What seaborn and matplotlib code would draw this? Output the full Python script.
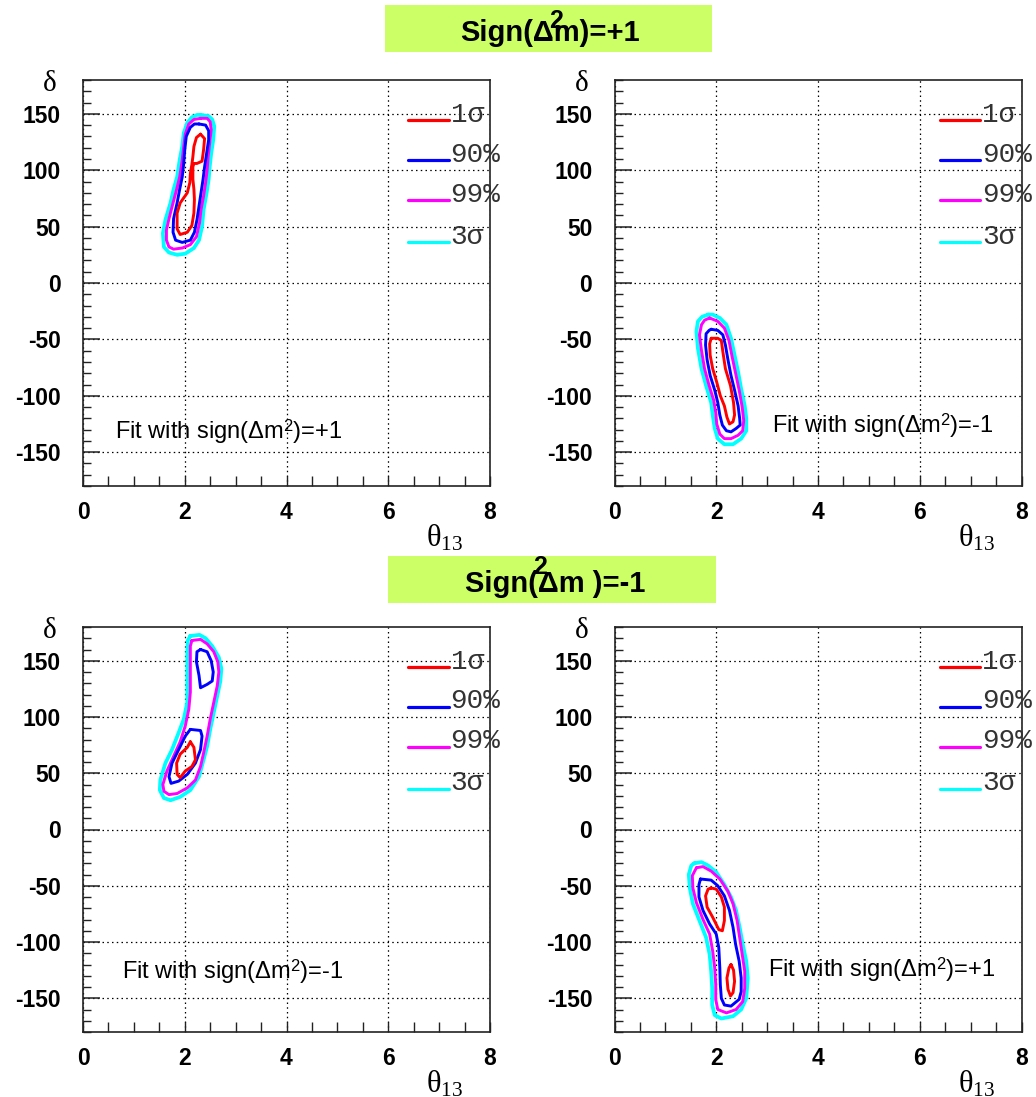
import numpy as np
import pandas as pd
import seaborn as sns
import matplotlib.pyplot as plt
from matplotlib.patches import Rectangle

# contour outlines: (theta13, delta) pairs
# top-left: true sign +1, fit with +1
tl_1sig = [(2.31,132),(2.39,128),(2.37,118),(2.34,108),(2.24,106),(2.18,106),(2.16,103),(2.16,92),
           (2.18,83),(2.19,74),(2.18,62),(2.14,51),(2.05,45),(1.91,43),(1.85,48),(1.85,62),(1.91,71),
           (2.05,80),(2.10,89),(2.11,97),(2.14,105),(2.16,112),(2.18,121),(2.23,129)]
tl_90 = [(2.28,141),(2.41,140),(2.47,135),(2.47,127),(2.43,115),(2.39,103),(2.36,92),(2.32,80),
         (2.28,68),(2.24,56),(2.19,45),(2.11,38),(1.95,36),(1.82,38),(1.77,45),(1.78,57),(1.85,71),
         (1.90,83),(1.95,94),(1.98,106),(2.00,118),(2.03,130),(2.11,138),(2.19,141)]
tl_99 = [(2.31,146),(2.44,146),(2.50,143),(2.52,136),(2.49,124),(2.46,112),(2.44,100),(2.41,89),
         (2.37,77),(2.32,65),(2.29,53),(2.23,41),(2.11,34),(1.95,31),(1.78,30),(1.69,32),(1.64,38),
         (1.64,47),(1.69,57),(1.77,71),(1.84,83),(1.90,94),(1.95,109),(1.98,121),(2.01,132),
         (2.08,141),(2.18,145)]
tl_3sig = [(2.31,149),(2.47,148),(2.54,145),(2.58,139),(2.56,127),(2.52,115),(2.49,103),(2.47,92),
           (2.43,80),(2.37,65),(2.34,50),(2.28,38),(2.18,31),(2.01,26),(1.85,25),(1.69,27),(1.59,32),
           (1.57,44),(1.62,56),(1.72,71),(1.78,83),(1.85,94),(1.90,109),(1.95,121),(1.98,133),
           (2.05,142),(2.14,147),(2.24,149)]

# top-right: true sign +1, fit with -1
tr_1sig = [(1.90,-49),(2.03,-49),(2.10,-51),(2.13,-61),(2.18,-76),(2.28,-91),(2.34,-106),(2.36,-117),
           (2.33,-123),(2.26,-125),(2.21,-119),(2.16,-109),(2.08,-100),(2.01,-88),(1.93,-76),
           (1.88,-64),(1.87,-54)]
tr_90 = [(1.90,-41),(2.03,-42),(2.13,-46),(2.18,-55),(2.23,-68),(2.29,-82),(2.36,-95),(2.43,-109),
         (2.46,-120),(2.47,-126),(2.39,-129),(2.29,-132),(2.20,-131),(2.12,-126),(2.07,-117),
         (2.03,-106),(1.97,-95),(1.88,-82),(1.82,-68),(1.79,-55),(1.80,-45),(1.86,-42)]
tr_99 = [(1.87,-31),(2.03,-34),(2.16,-40),(2.25,-51),(2.31,-65),(2.38,-80),(2.45,-95),(2.51,-110),
         (2.54,-122),(2.52,-131),(2.43,-135),(2.29,-138),(2.16,-138),(2.07,-134),(2.01,-125),
         (1.99,-115),(1.95,-104),(1.86,-91),(1.77,-76),(1.71,-60),(1.67,-46),(1.71,-37),(1.77,-33)]
tr_3sig = [(1.84,-28),(1.93,-28),(2.07,-31),(2.20,-37),(2.29,-49),(2.36,-64),(2.43,-79),(2.49,-94),
           (2.56,-109),(2.59,-120),(2.59,-131),(2.49,-138),(2.33,-143),(2.16,-143),(2.03,-138),
           (1.97,-129),(1.93,-117),(1.90,-106),(1.80,-91),(1.71,-76),(1.64,-58),(1.61,-43),
           (1.64,-34),(1.72,-30)]

# bottom-left: true sign -1, fit with -1
bl_1sig = [(2.11,78),(2.18,73),(2.21,62),(2.14,56),(2.01,52),(1.91,46),(1.85,49),(1.84,59),
           (1.91,67),(2.05,73)]
bl_90_up = [(2.31,160),(2.44,158),(2.52,150),(2.56,140),(2.54,132),(2.44,129),(2.31,126),(2.28,137),
            (2.23,149),(2.24,158)]
bl_90_lo = [(2.11,89),(2.31,88),(2.34,83),(2.31,71),(2.21,59),(2.05,49),(1.88,43),(1.73,41),
            (1.69,47),(1.75,59),(1.88,71),(2.01,83)]
bl_99 = [(2.14,168),(2.31,169),(2.44,165),(2.57,158),(2.65,149),(2.67,140),(2.64,128),(2.57,113),
         (2.50,98),(2.44,83),(2.37,68),(2.31,56),(2.21,44),(2.05,37),(1.85,32),(1.69,31),(1.59,34),
         (1.57,40),(1.65,52),(1.78,65),(1.91,78),(2.01,92),(2.08,107),(2.11,122),(2.11,137),
         (2.11,152),(2.11,163)]
bl_3sig = [(2.11,172),(2.29,173),(2.41,170),(2.54,163),(2.67,153),(2.72,143),(2.70,132),(2.64,119),
           (2.57,104),(2.50,89),(2.44,74),(2.37,62),(2.28,47),(2.11,35),(1.91,29),(1.72,26),
           (1.59,28),(1.51,35),(1.52,44),(1.62,59),(1.75,71),(1.88,86),(1.98,98),(2.05,113),
           (2.05,128),(2.05,143),(2.05,158),(2.06,168)]

# bottom-right: true sign -1, fit with +1
br_1sig_up = [(1.90,-52),(2.00,-53),(2.10,-60),(2.16,-69),(2.16,-81),(2.12,-90),(2.05,-89),
              (1.93,-78),(1.82,-69),(1.79,-59),(1.84,-53)]
br_1sig_lo = [(2.29,-120),(2.34,-125),(2.36,-135),(2.33,-145),(2.28,-148),(2.23,-142),(2.21,-132),
              (2.25,-123)]
br_90 = [(1.69,-44),(1.90,-45),(2.03,-50),(2.16,-59),(2.26,-72),(2.33,-87),(2.38,-102),(2.45,-117),
         (2.49,-132),(2.49,-144),(2.45,-151),(2.29,-157),(2.16,-156),(2.10,-150),(2.08,-138),
         (2.07,-123),(2.05,-105),(2.00,-93),(1.87,-84),(1.74,-72),(1.66,-60),(1.66,-49)]
br_99 = [(1.61,-34),(1.74,-33),(1.90,-37),(2.07,-44),(2.23,-55),(2.33,-66),(2.41,-81),(2.46,-96),
         (2.51,-111),(2.56,-126),(2.56,-141),(2.52,-153),(2.39,-160),(2.20,-163),(2.03,-160),
         (1.99,-151),(1.99,-138),(1.97,-123),(1.93,-108),(1.87,-93),(1.74,-80),(1.61,-65),
         (1.54,-52),(1.53,-41)]
br_3sig = [(1.57,-30),(1.71,-29),(1.84,-32),(2.00,-38),(2.16,-49),(2.29,-60),(2.39,-72),(2.46,-87),
           (2.52,-102),(2.59,-117),(2.62,-132),(2.59,-150),(2.49,-160),(2.33,-166),(2.10,-168),
           (1.97,-165),(1.92,-156),(1.92,-141),(1.90,-126),(1.87,-111),(1.80,-96),(1.67,-81),
           (1.54,-66),(1.48,-52),(1.46,-40),(1.51,-32)]

levels = ['1σ', '90%', '99%', '3σ']
level_colors = ['#ff0000', '#0000ff', '#ff00ff', '#00ffff']
level_widths = [2.1, 2.1, 2.1, 2.7]

panels = [
    {'pieces': {'1σ': [tl_1sig], '90%': [tl_90], '99%': [tl_99], '3σ': [tl_3sig]},
     'note': 'Fit with sign(Δm$^{\\mathsf{2}}$)=+1', 'note_xy': (0.079, 0.135)},
    {'pieces': {'1σ': [tr_1sig], '90%': [tr_90], '99%': [tr_99], '3σ': [tr_3sig]},
     'note': 'Fit with sign(Δm$^{\\mathsf{2}}$)=-1', 'note_xy': (0.388, 0.150)},
    {'pieces': {'1σ': [bl_1sig], '90%': [bl_90_up, bl_90_lo], '99%': [bl_99], '3σ': [bl_3sig]},
     'note': 'Fit with sign(Δm$^{\\mathsf{2}}$)=-1', 'note_xy': (0.096, 0.148)},
    {'pieces': {'1σ': [br_1sig_up, br_1sig_lo], '90%': [br_90], '99%': [br_99], '3σ': [br_3sig]},
     'note': 'Fit with sign(Δm$^{\\mathsf{2}}$)=+1', 'note_xy': (0.376, 0.153)},
]

sns.set_style('ticks')
plt.rcParams['font.family'] = ['Liberation Sans', 'DejaVu Sans']
plt.rcParams['mathtext.fontset'] = 'custom'
plt.rcParams['mathtext.rm'] = 'Liberation Serif'
plt.rcParams['mathtext.it'] = 'Liberation Serif'
plt.rcParams['mathtext.sf'] = 'Liberation Sans'
plt.rcParams['axes.unicode_minus'] = False
plt.rcParams['text.color'] = 'black'
plt.rcParams['xtick.color'] = 'black'
plt.rcParams['ytick.color'] = 'black'
plt.rcParams['xtick.labelcolor'] = 'black'
plt.rcParams['ytick.labelcolor'] = 'black'

W, H = 1036, 1097
fig = plt.figure(figsize=(W / 100, H / 100), dpi=100)
fig.patch.set_facecolor('white')

# axes boxes in pixels: left, top, right, bottom
boxes = [(83, 80, 490, 486), (614.5, 80, 1021.5, 486),
         (83, 627, 490, 1032), (614.5, 627, 1021.5, 1032)]

pal = dict(zip(levels, level_colors))
sizes = dict(zip(levels, level_widths))
# legend rows (axes fraction) for the hand-placed key
key_rows = [0.9015, 0.803, 0.7044, 0.601]

for panel, (l, t, r, b) in zip(panels, boxes):
    ax = fig.add_axes([l / W, (H - b) / H, (r - l) / W, (b - t) / H])

    rows = []
    for lev in levels:
        for k, piece in enumerate(panel['pieces'][lev]):
            pts = piece + [piece[0]]
            for th, de in pts:
                rows.append({'theta': th, 'delta': de, 'level': lev, 'piece': f'{lev}_{k}'})
    df = pd.DataFrame(rows)

    sns.lineplot(data=df, x='theta', y='delta', hue='level', size='level',
                 units='piece', estimator=None, sort=False,
                 palette=pal, sizes=sizes, hue_order=levels[::-1], size_order=levels[::-1],
                 legend=False, ax=ax)

    ax.set_xlim(0, 8)
    ax.set_ylim(-180, 180)
    ax.set_xticks([0, 2, 4, 6, 8])
    ax.set_xticks(np.arange(0, 8.01, 0.5), minor=True)
    ax.set_yticks([-150, -100, -50, 0, 50, 100, 150])
    ax.set_yticks(np.arange(-180, 181, 10), minor=True)
    ax.set_xlabel('')
    ax.set_ylabel('')
    ax.grid(True, which='major', color='black', linestyle=(0, (1.2, 2.6)), linewidth=0.9)
    ax.tick_params(which='both', direction='in', top=False, right=False, color='#222')
    ax.tick_params(axis='y', which='major', length=12, width=1.1, pad=16)
    ax.tick_params(axis='y', which='minor', length=6, width=1.0)
    ax.tick_params(axis='x', which='major', length=7, width=1.0, pad=11)
    ax.tick_params(axis='x', which='minor', length=7, width=1.0)
    for lab in ax.get_xticklabels() + ax.get_yticklabels():
        lab.set_fontfamily('Liberation Sans')
        lab.set_fontweight('bold')
        lab.set_fontsize(16.5)
    for sp in ax.spines.values():
        sp.set_color('#222')
        sp.set_linewidth(1.2)

    # axis titles
    ax.text(-0.081, 0.99, 'δ', transform=ax.transAxes, ha='center', va='center',
            fontfamily='Liberation Serif', fontsize=21)
    ax.text(0.889, -0.128, r'$\theta_{13}$', transform=ax.transAxes, ha='center', va='center',
            fontsize=22)

    # note
    ax.text(panel['note_xy'][0], panel['note_xy'][1], panel['note'], transform=ax.transAxes,
            ha='left', va='center', fontsize=17)

    # key: short line with its label sitting on it
    for lev, col, yk in zip(levels, level_colors, key_rows):
        ax.plot([0.799, 0.899], [yk, yk], transform=ax.transAxes, color=col, lw=2.3,
                clip_on=False)
        ax.text(0.903, yk - 0.004, lev, transform=ax.transAxes, ha='left', va='baseline',
                fontfamily='Liberation Mono', fontsize=20, color='#333333', clip_on=False)

# title boxes
fig.add_artist(Rectangle((385 / W, (H - 52) / H), 327 / W, 47 / H, transform=fig.transFigure,
                         facecolor='#ccff66', edgecolor='none'))
fig.text(550 / W, 1 - 33 / H, 'Sign(Δm)=+1', ha='center', va='center',
         fontsize=21, fontweight='bold')
fig.text(556 / W, 1 - 21 / H, '2', ha='center', va='center', fontsize=18, fontweight='bold')

fig.add_artist(Rectangle((388 / W, (H - 603) / H), 328 / W, 47 / H, transform=fig.transFigure,
                         facecolor='#ccff66', edgecolor='none'))
fig.text(555 / W, 1 - 584 / H, 'Sign(Δm )=-1', ha='center', va='center',
         fontsize=21, fontweight='bold')
fig.text(540 / W, 1 - 567 / H, '2', ha='center', va='center', fontsize=18, fontweight='bold')

fig.savefig('out.png', dpi=100)
